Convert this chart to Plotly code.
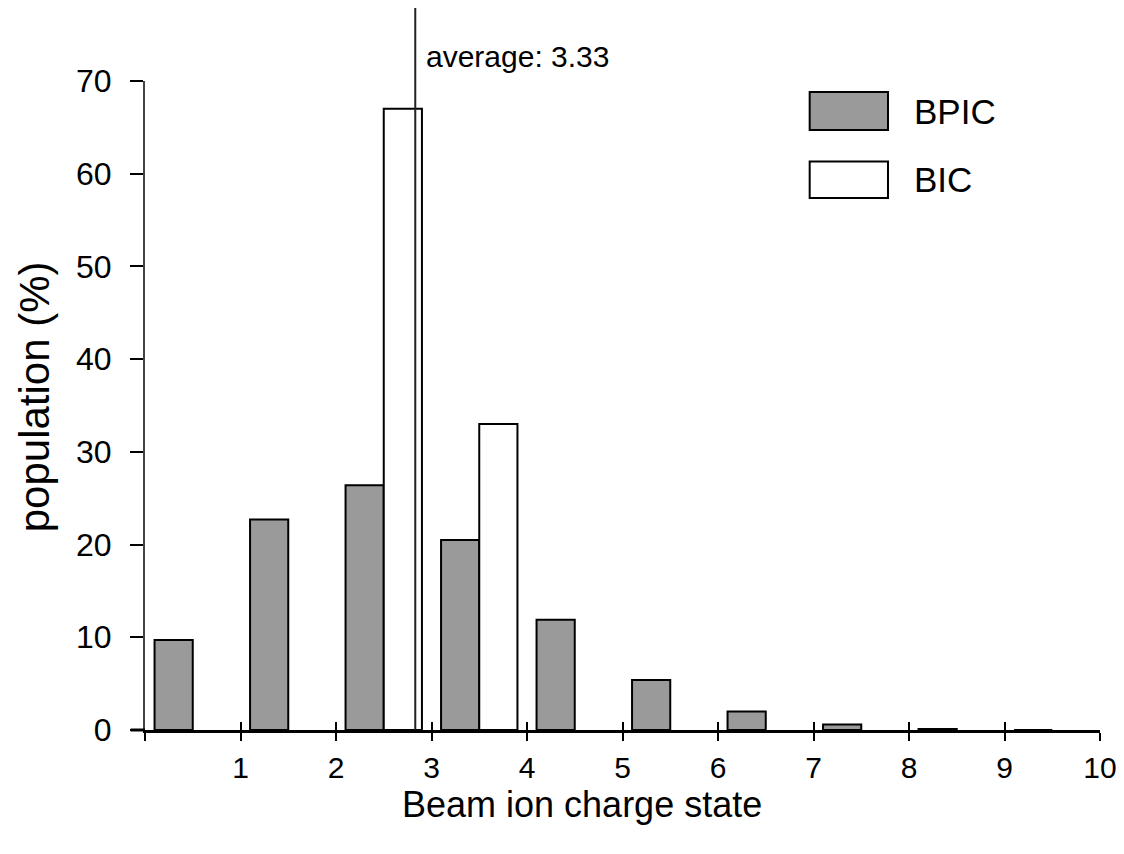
import plotly.graph_objects as go

# ---- data ----
charge_states = [1, 2, 3, 4, 5, 6, 7, 8, 9, 10]
bpic_pop = [9.7, 22.7, 26.4, 20.5, 11.9, 5.4, 2.0, 0.6, 0.1, 0.0]
bic_states = [3, 4]
bic_pop = [67.0, 33.0]
average_charge = 3.33
x_tick_vals = [0, 1, 2, 3, 4, 5, 6, 7, 8, 9, 10]
x_tick_text = ["", "1", "2", "3", "4", "5", "6", "7", "8", "9", "10"]
y_tick_vals = [0, 10, 20, 30, 40, 50, 60, 70]
x_title = "Beam ion charge state"
y_title = "population (%)"

FONT = "Liberation Sans, Arial, Helvetica, sans-serif"
GRAY = "#9a9a9a"

# bins: charge state q occupies [q-1, q]; BPIC in left part, BIC in right part
bpic_x = [q - 1 + 0.3 for q in charge_states]
bic_x = [q - 1 + 0.7 for q in bic_states]

fig = go.Figure()
fig.add_trace(go.Bar(x=bpic_x, y=bpic_pop, width=0.4, name="BPIC",
                     marker=dict(color=GRAY, line=dict(color="black", width=2)),
                     showlegend=False))
fig.add_trace(go.Bar(x=bic_x, y=bic_pop, width=0.4, name="BIC",
                     marker=dict(color="white", line=dict(color="black", width=2)),
                     showlegend=False))

# average line (bin centre of average charge)
avg_x = average_charge - 0.5
fig.add_shape(type="line", xref="x", yref="paper", x0=avg_x, x1=avg_x,
              y0=0, y1=1.1125, line=dict(color="#222222", width=2))
fig.add_annotation(x=avg_x, xref="x", y=1.037, yref="paper", yanchor="middle",
                   text="average: 3.33", showarrow=False, xanchor="left",
                   xshift=9, font=dict(family=FONT, size=30, color="black"))

# x-axis line extension to the left of the y axis
fig.add_shape(type="line", xref="paper", yref="paper", x0=-0.015, x1=0,
              y0=0, y1=0, line=dict(color="black", width=3))

# axis titles as annotations for exact placement
fig.add_annotation(xref="paper", yref="paper", x=0.458, y=-0.1145,
                   text=x_title, showarrow=False, xanchor="center", yanchor="middle",
                   font=dict(family=FONT, size=36, color="black"))
fig.add_annotation(xref="paper", yref="paper", x=-0.116, y=0.513,
                   text=y_title, showarrow=False, textangle=-90,
                   xanchor="center", yanchor="middle",
                   font=dict(family=FONT, size=42, color="black"))

# legend (manual, large boxes)
legend_items = [("BPIC", GRAY, 0.983, 0.9245), ("BIC", "white", 0.876, 0.8197)]
for label, col, ytop, ybot in legend_items:
    fig.add_shape(type="rect", xref="paper", yref="paper",
                  x0=0.696, x1=0.778, y0=ybot, y1=ytop,
                  fillcolor=col, line=dict(color="black", width=2))
    fig.add_annotation(xref="paper", yref="paper", x=0.803, y=(ytop + ybot) / 2,
                       text=label, showarrow=False, xanchor="left", yanchor="middle",
                       font=dict(family=FONT, size=35, color="black"))

# page body has an 8px margin: figure is shifted by 8px, so size/margins compensate
fig.update_layout(
    width=1116, height=846,
    margin=dict(l=137, r=24, t=73, b=124),
    paper_bgcolor="white", plot_bgcolor="white",
    barmode="overlay",
    font=dict(family=FONT, color="black"),
    xaxis=dict(range=[0, 10], tickmode="array", tickvals=x_tick_vals,
               ticktext=x_tick_text, ticks="outside", ticklen=8, tickwidth=2,
               tickcolor="black", showline=True, linecolor="black", linewidth=3,
               showgrid=False, zeroline=False, ticklabelstandoff=1,
               tickfont=dict(family=FONT, size=30), automargin=False),
    xaxis2=dict(range=[0, 10], overlaying="x", anchor="y", side="bottom",
                tickmode="array", tickvals=x_tick_vals, ticks="inside",
                ticklen=8, tickwidth=2, tickcolor="black", showticklabels=False,
                showline=False, showgrid=False, zeroline=False),
    yaxis=dict(range=[0, 70], tickmode="array", tickvals=y_tick_vals,
               ticks="outside", ticklen=13, tickwidth=2, tickcolor="black",
               showline=True, linecolor="#444444", linewidth=2,
               showgrid=False, zeroline=False, ticklabelstandoff=12,
               tickfont=dict(family=FONT, size=32), automargin=False),
)
# invisible trace to activate xaxis2 for the upward half of the x ticks
fig.add_trace(go.Scatter(x=[0, 10], y=[None, None], xaxis="x2", yaxis="y",
                         mode="markers", showlegend=False, hoverinfo="skip"))

fig.write_html("out.html")
